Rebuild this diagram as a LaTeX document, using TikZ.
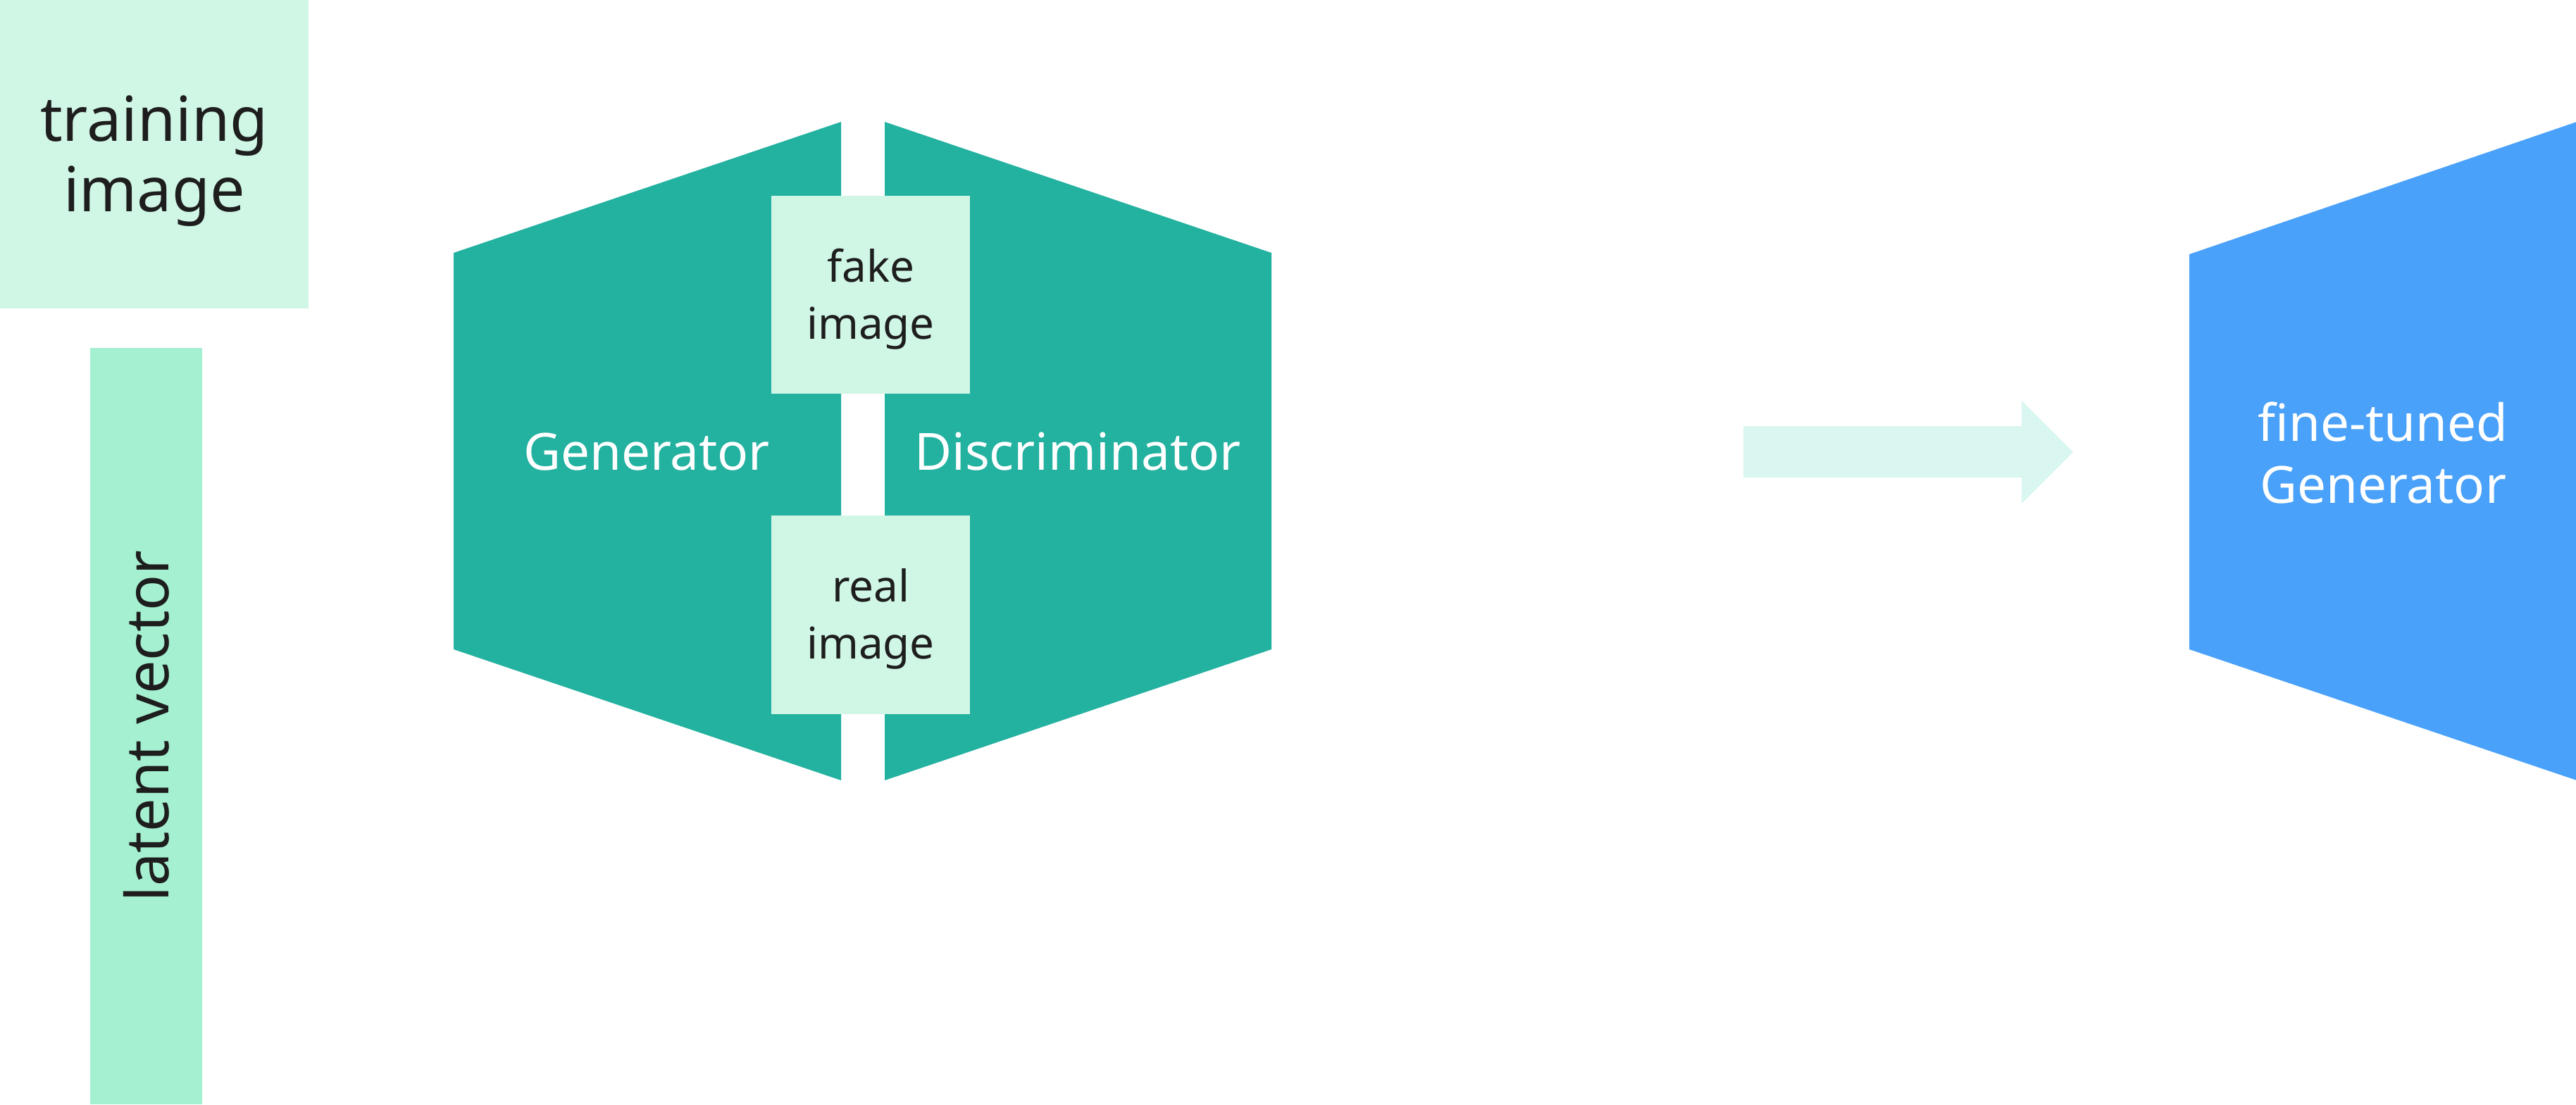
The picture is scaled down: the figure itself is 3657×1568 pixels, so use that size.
\documentclass[tikz,border=0pt]{standalone}
\usepackage{fontspec}
\setmainfont{Noto Sans}
\definecolor{teal1}{RGB}{35,177,160}
\definecolor{paleg}{RGB}{208,246,229}
\definecolor{mintg}{RGB}{165,240,208}
\definecolor{blue1}{RGB}{74,161,249}
\definecolor{arrowc}{RGB}{217,246,241}
\definecolor{ink}{RGB}{30,30,30}
\tikzset{
  pale/.style={fill=paleg, draw=none, inner sep=0pt, align=center, text=ink},
  lbl/.style={text=white, align=center, inner sep=0pt},
  bigf/.style={font=\fontsize{25}{28.5}\selectfont},
  midf/.style={font=\fontsize{20.7}{24.8}\selectfont},
  smf/.style={font=\fontsize{17.6}{23}\selectfont},
}
\begin{document}
\begin{tikzpicture}[x=0.01cm,y=-0.01cm]
\useasboundingbox (0,0) rectangle (3657,1568);
% training image
\fill[paleg] (0,0) rectangle (438,438);
\node[pale, fill=none, bigf] (train) at (219,229) {training\\image};
% latent vector
\node[fill=mintg, inner sep=0pt, minimum width=1.59cm, minimum height=10.74cm] (latent) at (207.5,1031) {};
\node[rotate=90, text=ink, font=\fontsize{24}{27}\selectfont, inner sep=0pt] (latentlbl) at (latent.center) {latent vector};
% generator / discriminator
\fill[teal1] (644,359) -- (1194,173) -- (1194,1108) -- (644,922) -- cycle;
\fill[teal1] (1256,173) -- (1805,359) -- (1805,922) -- (1256,1108) -- cycle;
\node[lbl, midf] (gen) at (918,641) {Generator};
\node[lbl, midf] (disc) at (1530,641) {Discriminator};
\fill[paleg] (1095,278) rectangle (1377,559);
\fill[paleg] (1095,732) rectangle (1377,1014);
\node[pale, fill=none, smf] (fake) at (1236,425) {fake\\image};
\node[pale, fill=none, smf] (real) at (1236,879) {real\\image};
% arrow
\fill[arrowc] (2475,605) -- (2870,605) -- (2870,569) -- (2943,642) -- (2870,715) -- (2870,678) -- (2475,678) -- cycle;
% fine-tuned generator
\fill[blue1] (3108,361) -- (3658,173) -- (3658,1108) -- (3108,922) -- cycle;
\node[lbl, midf] (ft) at (3383,643) {fine-tuned\\Generator};
\end{tikzpicture}
\end{document}
